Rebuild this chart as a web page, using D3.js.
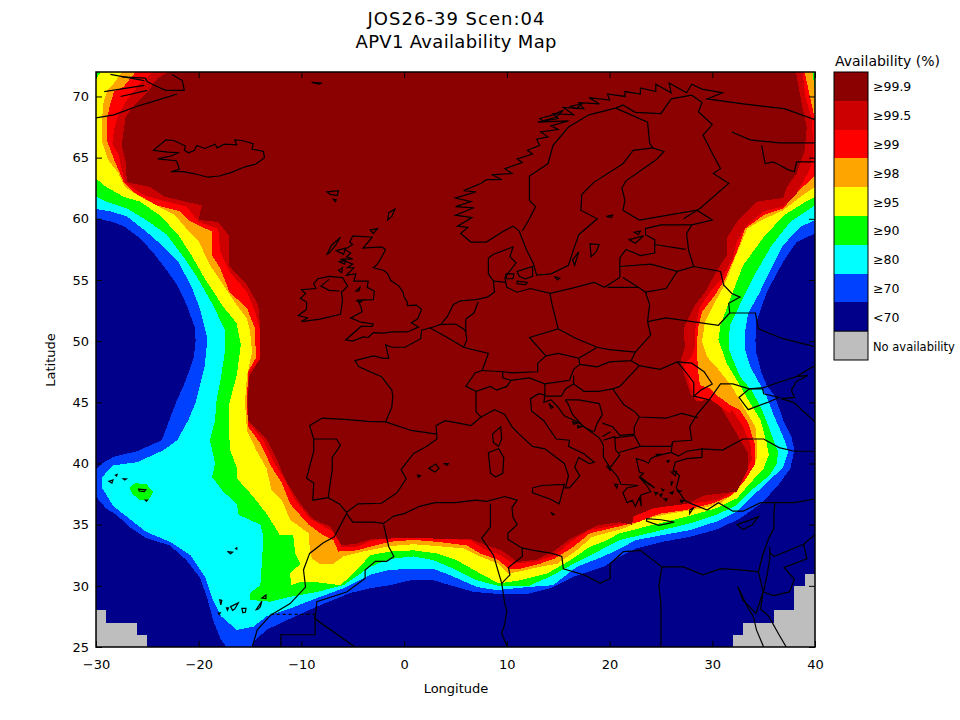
<!DOCTYPE html>
<html>
<head>
<meta charset="utf-8">
<script src="https://cdnjs.cloudflare.com/ajax/libs/d3/7.8.5/d3.min.js"></script>
<style>
  html, body { margin: 0; padding: 0; background: #fff; }
  text { font-family: "DejaVu Sans", sans-serif; fill: #000; }
</style>
</head>
<body>
<div id="chart"></div>
<script>
var lonTicks = [-30, -20, -10, 0, 10, 20, 30, 40];
var latTicks = [25, 30, 35, 40, 45, 50, 55, 60, 65, 70];
var legendLabels = ["≥99.9", "≥99.5", "≥99", "≥98", "≥95", "≥90", "≥80", "≥70", "<70", "No availability"];
var legendColors = ["#8b0000", "#cc0000", "#ff0000", "#ffa500", "#ffff00", "#00ff00", "#00ffff", "#0040ff", "#00008b", "#bebebe"];

// contour of each availability level, [lon, lat]
var level70 = [[-30,60],[-28.6,59.8],[-27.3,59.4],[-25.7,58.4],[-24.4,57.2],[-23.3,56],[-22.1,54.6],[-21.2,53],[-20.4,51.2],[-20.3,50],[-20.5,48.6],[-21.3,46.7],[-22.2,45],[-23.6,41.9],[-26,41],[-28.3,40.55],[-29.4,40],[-30,39.5],[-30,37.3],[-29,36.3],[-28,35.8],[-26.7,34.8],[-25.1,33.9],[-22.8,33.3],[-21.2,32.1],[-19.9,30.7],[-19.2,29.1],[-18.6,27.2],[-17.9,25.7],[-17.3,25],[-14.8,25],[-14.7,25.4],[-13.4,26.4],[-11.4,27.2],[-8.5,28.3],[-5.3,29.4],[-3.3,29.8],[-1.4,30.05],[0.6,30.45],[2.85,30.45],[4.5,30.05],[6.75,29.5],[9,29.35],[12,29.35],[14.2,29.8],[16.8,30.85],[19.4,31.55],[21,32.4],[22.6,33.05],[25.2,33.6],[27.8,34],[30.4,34.6],[32.7,35.5],[34.7,36.7],[36.3,38.1],[37.6,39.6],[38,41.1],[37.7,42.2],[36.9,43.55],[36.1,45.5],[35.3,46.4],[34.8,47.4],[34.3,49],[34.2,50],[34.3,51.6],[35.3,54],[36.9,56.5],[38.2,58.1],[40,58.8],[40,72],[-30,72]];
var level80 = [[-30,60.8],[-28.6,60.6],[-27,60.2],[-25.1,58.95],[-23.4,57.7],[-22,56.5],[-20.7,54.45],[-19.9,52.7],[-19.15,50.2],[-19.4,48.05],[-20.3,45],[-21,43.55],[-22.1,41.9],[-23.4,41.1],[-26,40.1],[-28.3,39.85],[-29.4,38.9],[-29.4,38],[-28.3,36.5],[-27,35.65],[-25.1,34.4],[-22.8,33.6],[-20.8,32.5],[-19.4,30.75],[-18.6,28.8],[-17.8,27.5],[-16.3,26.4],[-14.7,26.65],[-13.4,27.5],[-11.1,28.15],[-8.5,29],[-5.9,29.8],[-3.3,30.9],[-1.4,31.3],[0.9,31.4],[2.85,31.4],[4.8,30.75],[7.1,29.9],[9,29.65],[12,29.9],[14.5,30.05],[16.8,31.55],[19.4,32.4],[21,33.05],[22.6,33.75],[25.2,34.15],[27.8,34.55],[30.4,35.25],[32.4,36.05],[34,37.4],[35.6,38.65],[36.9,39.7],[37.4,41],[36.9,42.2],[36.1,43.7],[35.3,45.45],[34.5,46.7],[33.7,47.9],[33.2,49.3],[33.2,50.8],[33.5,52.3],[34.5,53.8],[35.6,55.7],[36.9,57.85],[38.6,59.35],[40,59.9],[40,72],[-30,72]];
var level90 = [[-30,61.8],[-29,61.4],[-27,60.85],[-25.1,59.9],[-23.1,58.7],[-21.5,56.9],[-20.2,55.3],[-18.6,52.95],[-17.4,50.8],[-17.4,49.4],[-17.8,47.2],[-18.3,45],[-18.4,43.55],[-18.9,41.9],[-18.4,40],[-18.7,38.9],[-17.6,37.7],[-16.3,36.7],[-16.1,35.8],[-14,35],[-13.7,34],[-13.9,31.3],[-14,30.05],[-15,29.4],[-15,28.85],[-13,28.7],[-11.1,29.1],[-8.5,29.5],[-5.9,30.05],[-3.3,31.55],[-1.4,32.2],[0.9,32.4],[2.85,32.1],[4.8,31.4],[7.1,30.45],[9.35,29.95],[12,29.95],[14.2,30.75],[16.5,31.8],[19.4,33.05],[21,33.75],[24.3,34.4],[27.8,35.1],[30.4,35.8],[32.4,36.6],[34,37.95],[35.6,39.05],[36.3,40],[36.4,41],[36,41.8],[35.5,43],[34.7,44.65],[33.8,46],[32.7,47.1],[31.9,48.7],[31.6,49.4],[31.7,51.3],[32.7,53],[34.2,55.55],[35.8,57.85],[37.6,59.75],[40,61.1],[40,72],[-30,72]];
var azoresPatch = [[-26.7,38],[-26.2,38.4],[-25.1,38.3],[-24.4,37.7],[-24.9,37],[-25.7,37],[-26.5,37.55]];
var level95 = [[-30,63.3],[-29,62.6],[-27.3,61.8],[-25.7,61.4],[-23.8,60.3],[-22,58.7],[-20.7,57],[-19.4,55.1],[-17.6,52.8],[-16.3,51.45],[-15.9,49.7],[-16.3,47.2],[-17,45],[-17.1,43.55],[-16.95,41.1],[-16.3,39.7],[-16.3,38.8],[-14.7,37.3],[-13.4,35.9],[-12.1,34.15],[-10.8,34.15],[-10.6,32.65],[-10.1,31.8],[-11.1,31],[-11,30.05],[-10.1,30.3],[-8.5,30.3],[-6.2,30.05],[-4.6,31.3],[-3.3,32.5],[-1.4,32.8],[0.9,32.9],[3.2,32.65],[5.1,32.1],[7.1,31.15],[9.2,30.2],[11.3,30.45],[13.9,31],[16.2,32.1],[18.1,33.2],[19.4,33.6],[21,34.3],[24.3,35],[27.5,35.65],[30.4,36.35],[32.4,37.15],[33.8,38.5],[35,39.6],[35.5,40.7],[35.3,41.65],[34.7,43.55],[33.5,45.2],[32.4,46.8],[31.4,48.2],[30.6,50.1],[30.8,51.3],[31.9,53.8],[33,56.2],[35,58.5],[37,60.3],[38.9,61.3],[40,61.8],[40,70.5],[39.75,72],[-29.55,72],[-30,71.4]];
var level98 = [[-27.45,72],[-28.25,71.1],[-28.9,70.5],[-29.3,69.4],[-29.4,68.1],[-29.4,66.3],[-28.8,64.8],[-27.8,63.7],[-27.2,62.6],[-25.7,61.8],[-23.9,61],[-22.3,60.3],[-21.2,59.2],[-20,58.15],[-18.9,56.2],[-17.6,54.6],[-16.3,52.95],[-15.3,51.85],[-15,50.8],[-14.8,49.1],[-15.3,47.2],[-15.5,45],[-15.3,42.7],[-14.4,41.1],[-13.4,39.6],[-12.9,37.8],[-11.9,37],[-11.1,35.4],[-9.3,34.3],[-9.2,33.2],[-9,32.25],[-8.2,31.8],[-6.9,31.8],[-5.9,32.4],[-4,32.8],[-1.4,33.25],[0.9,33.4],[3.2,33.25],[5.8,33.05],[7.4,32.4],[9.2,31.8],[10.15,31],[11.1,31.15],[13.2,31.55],[14.9,31.8],[16.8,32.9],[18.3,34],[21.4,34.7],[23.6,35.5],[25.9,35.9],[29.1,36.35],[30.8,36.75],[32.4,37.7],[33.5,39.05],[34.3,40.3],[34.4,41.35],[34.2,43],[33.2,44.4],[31.9,46.3],[30.4,47.9],[29.5,48.7],[29,50],[29.3,51.6],[30.1,52.95],[31.2,54.6],[32.2,56.8],[33.4,59.2],[34.8,59.9],[36.9,60.7],[38.6,61.8],[40,62.6],[40,70.5],[39.75,72]];
var level99 = [[-26.15,72],[-27.3,70.8],[-28.25,70.4],[-28.6,69.4],[-28.9,68.35],[-28.9,66.3],[-28.15,64.65],[-27.3,63],[-26.2,62.1],[-24.1,61.1],[-21.8,60.6],[-20.85,59.8],[-18.7,58.95],[-18.7,57],[-17.9,55.95],[-17,54],[-15.3,52.7],[-14.5,51],[-14.45,48.6],[-15.2,47.5],[-15.3,45],[-15.2,43],[-14,41.65],[-12.9,39.7],[-11.9,38.4],[-11.1,36.7],[-9.3,35],[-7.9,34.15],[-6.9,33.75],[-6.4,32.8],[-4.6,32.9],[-3.3,33.2],[-1.4,33.6],[0.9,33.75],[3.2,33.6],[6.1,33.3],[7.4,32.65],[9.2,32.1],[10.15,31.4],[11.3,31.4],[13.2,31.8],[14.7,32.25],[16.5,33.2],[18.1,34.3],[21.4,34.95],[22.9,35.25],[24.9,35.9],[27.5,36.2],[30.1,36.75],[31.9,37.4],[33.2,38.65],[34.2,40],[34.2,41.4],[33.5,43.3],[32.7,44.35],[31.7,44.8],[30.4,45.6],[29.8,46.15],[28.8,46.4],[28.6,47.65],[28.5,49.55],[28.6,51],[29,52.4],[30.2,53.7],[31.2,55],[32.4,57.3],[33.2,59.2],[35,60.3],[36.9,60.85],[38.2,62.1],[39.2,62.9],[40,63.5],[40,68.1],[39.5,70],[39,72]];
var level995 = [[-24.5,72],[-26,70.8],[-27,69.7],[-27.9,68.35],[-28.25,67.25],[-28.4,66.15],[-27.8,65.2],[-27.2,63],[-25.4,61.95],[-23.8,61.55],[-21.2,61],[-20,59.75],[-18.1,59.2],[-17.9,57.3],[-17,55.7],[-15.3,54],[-14.5,52.4],[-14,50.8],[-14,48.6],[-15.1,47.4],[-15.3,45],[-15.1,43.3],[-13.7,41.9],[-12.6,40],[-11.6,38.65],[-10.6,37],[-9.2,35.5],[-7.2,34.55],[-6.2,33.75],[-6.1,33.2],[-4.6,33.2],[-3.3,33.65],[-1.4,33.95],[0.9,33.95],[3.2,33.85],[6.4,33.75],[7.7,33.05],[9.35,32.5],[10.6,31.8],[12.9,32],[14.7,32.5],[16.2,33.6],[18,34.55],[21.4,35.1],[22.3,35.65],[24,36.35],[25.2,36.5],[28.2,36.75],[30.4,37],[32.1,37.7],[33,38.9],[33.85,40.3],[33.7,41.65],[32.9,43.15],[31.9,44.4],[31.7,44.1],[30.4,44.9],[29.5,44.8],[28.5,45.3],[28,46],[27.2,48],[28,48.7],[28.3,49.55],[28.3,50.8],[28.75,52.7],[29.8,54.05],[30.9,55.1],[32,56.8],[32.4,58.15],[33.4,59.5],[35,60.6],[36.9,61],[38.2,62],[38.55,62.6],[39.5,64],[39.85,65.35],[39.7,68.1],[39.05,70],[38.8,72]];
var level999 = [[-22.9,72],[-24,71.5],[-24.85,70.5],[-26.1,69.45],[-27.1,68.35],[-27.3,67.25],[-27.5,66],[-27.1,64.65],[-27,63],[-24.75,62.6],[-23.3,61.8],[-19.7,61.1],[-20,59.9],[-18.1,59.75],[-17.1,58.65],[-17.1,56.2],[-15.3,54.6],[-14.2,52.95],[-14,51],[-14,48.6],[-15.1,47.1],[-15.2,45],[-15.2,43.55],[-13.4,42],[-12.4,40.3],[-11.4,38.4],[-10.1,36.7],[-8.8,35.4],[-7.2,34.85],[-6.1,33.3],[-4.6,33.45],[-3.3,33.8],[-1.7,33.85],[0.9,33.95],[3.2,33.85],[6.4,33.85],[8,33.3],[9.5,32.9],[10.15,32.5],[11,31.95],[12.9,32.15],[14.5,32.8],[16.2,33.85],[17.5,34.4],[18.8,34.95],[21,35.2],[22.2,35],[22.3,35.65],[24.3,36.35],[27.5,36.7],[29.3,37.4],[32.4,37.7],[33.5,39.6],[33.5,40.8],[32.2,42.7],[30.8,44.65],[29.8,45.25],[28.5,45.05],[27.85,45.75],[27,47.9],[26.9,48.3],[27.35,49.55],[27.2,50.9],[27.35,51.3],[28.3,52.95],[29.3,54],[30.4,55.7],[31.4,57],[31.4,58.4],[32.4,59.75],[34.3,61.4],[36.9,61.7],[37.25,62.6],[38.2,63.7],[39,65.6],[39.2,67.5],[38.7,69.4],[38.15,72]];
var noDataWest = [[-30,25],[-30,28],[-29,28],[-29,27],[-26,27],[-26,26],[-25,26],[-25,25]];
var noDataEast = [[32,25],[32,26],[33,26],[33,27],[36,27],[36,28],[38,28],[38,30],[39,30],[39,31],[40,31],[40,25]];

// coastlines and borders, [lon, lat]
var iceland = [[-22.7,63.85],[-21.5,63.85],[-20.5,63.7],[-19.1,63.4],[-18,63.5],[-16.8,63.8],[-15.5,64.25],[-14.5,64.45],[-13.6,65],[-13.7,65.5],[-14.8,65.7],[-14.7,66.15],[-15.8,66.4],[-16.5,66.45],[-16.3,66.05],[-17.5,66.1],[-18.2,65.8],[-18.4,66.1],[-19.4,65.75],[-20.2,66],[-20.4,65.6],[-21,65.4],[-21.4,65.6],[-21.3,65.95],[-22.4,66.4],[-23.2,66.45],[-24.4,65.6],[-23,65.45],[-22,65.4],[-22.6,65.15],[-24,64.9],[-22.2,64.75],[-22,64.4],[-21.9,64.05],[-22.7,63.85]];
var greenland = [[[-30,68.25],[-28.25,68.5],[-26,69.2],[-24,69.7],[-22.1,70.2]],[[-25,71.2],[-24,70.8],[-23.2,70.5],[-21.4,70.5],[-21.6,71.3],[-22.6,71.8]],[[-29.2,70.4],[-25.3,70.9]],[[-27.6,70],[-25,70.5]],[[-28.6,71.8],[-25.3,71.3]],[[-27.5,71.6],[-25.2,71.5],[-25,71.2]]];
var britain = [[-5.7,50.1],[-5,50],[-4,50.35],[-3.5,50.3],[-3,50.7],[-2,50.65],[-1.2,50.75],[0.3,50.75],[1.4,51.15],[0.7,51.5],[1.3,51.8],[1.7,52.6],[1.2,52.95],[0.3,52.9],[0.3,53.2],[0,53.6],[-0.1,54],[-0.5,54.5],[-1.3,54.95],[-1.6,55.5],[-2,55.8],[-3,56],[-2.6,56.3],[-2.1,57],[-1.8,57.5],[-2.2,57.7],[-4,57.6],[-3.1,58.5],[-5,58.6],[-5.3,58.1],[-5,57.9],[-5.8,57.5],[-5.2,57.2],[-5.6,56.9],[-5,56.7],[-6.2,56.7],[-5,56.3],[-5.5,56],[-4.9,56],[-5.6,55.4],[-4.7,55.5],[-4.9,54.9],[-3.5,54.9],[-3.6,54.4],[-2.9,54.1],[-3,53.4],[-4.5,53.35],[-4.2,52.8],[-4.1,52.4],[-5.2,51.9],[-4.2,51.55],[-3,51.4],[-3.1,51.2],[-4.2,51.2],[-5.7,50.1]];
var ireland = [[-6,53.3],[-6.2,52.2],[-8.2,51.8],[-10,51.6],[-9.4,51.9],[-10.3,52.1],[-9.5,52.6],[-9.5,53.2],[-10.1,53.5],[-9.6,53.9],[-10,54.2],[-8.6,54.3],[-8.8,54.7],[-8.4,55.1],[-7.3,55.3],[-6,55.2],[-5.5,54.5],[-6.1,54],[-6,53.3]];
var ulster = [[-7.3,55.05],[-8.1,54.5],[-7.3,54.15],[-6.3,54.1]];
var mainland = [[-8.8,42],[-8.8,41],[-9.5,38.8],[-8.8,38.4],[-8.9,37],[-7.4,37.2],[-6.3,36.7],[-5.6,36],[-4.5,36.7],[-2.2,36.75],[-0.7,37.6],[0.2,38.75],[-0.3,39.5],[0.9,40.8],[2.2,41.4],[3.2,42],[3.1,43.1],[4,43.5],[5.3,43.3],[6.5,43.1],[7.5,43.8],[8.8,44.4],[9.8,44],[10.5,43],[11.2,42.4],[12.5,41.4],[13.7,41.2],[14.5,40.7],[15.6,40],[16,39],[15.7,38],[16.1,38],[16.6,38.5],[17.1,39],[16.6,39.7],[17,40.5],[18,40],[18.5,40.1],[17.5,40.8],[16,41.4],[16.1,41.9],[14.8,42],[13.6,43.5],[12.4,44.3],[12.3,45.3],[13.1,45.7],[13.7,45.6],[13.6,45],[14.3,45.2],[14.9,44.7],[15.6,43.9],[16.9,43.4],[18,42.7],[19,42.1],[19.4,41.5],[19.4,40.5],[20.1,39.6],[20.8,38.9],[21.1,38.3],[22.8,38.2],[21.7,38],[21.3,37.6],[21.7,36.8],[22.2,37],[22.5,36.5],[22.9,37.2],[23.1,36.5],[23,37.4],[24,37.7],[23.7,38.1],[22.9,38.9],[23.3,39.2],[22.9,39.3],[22.6,40.4],[23.4,40.2],[23.8,40],[24,40.4],[24.5,40.6],[26,40.9],[26.7,40.6],[27.5,41],[29,41.2],[31,41.1],[33,42],[35,42],[36.5,41.3],[38,41],[40,41]];
var atlanticCoast = [[-8,43.7],[-9.2,43.1],[-8.8,42]];
var northCoast = [[-8,43.7],[-5.8,43.6],[-3.5,43.45],[-1.8,43.4],[-1.2,44.6],[-1.1,45.5],[-1.2,46],[-2.2,47.1],[-4.4,47.9],[-4.8,48.4],[-3,48.8],[-2,48.6],[-1.5,48.6],[-1.8,49.7],[-1.2,49.5],[0.1,49.5],[1.6,50.2],[1.7,50.9],[3,51.2],[3.6,51.4],[4.2,52],[4.8,53],[5.5,53.3],[7,53.4],[8.1,53.6],[8.8,54],[8.7,54.9],[8.2,55.5],[8.2,56.8],[8.7,57.1],[10.6,57.7],[10.3,56.9],[10.9,56.4],[9.8,55.2],[10,54.4],[11,54],[12.3,54.3],[14.2,53.9],[16.2,54.3],[18.5,54.8],[19.5,54.4],[21,55.2],[21,56.8],[21.6,57.5],[23,57],[24.4,57.2],[24.4,58.3],[23.5,58.7],[23.5,59.2],[25,59.5],[28,59.5],[30,59.9],[28.5,60.7],[25,60.2],[22.9,59.9],[21.3,60.7],[21.5,61.5],[21.2,62.5],[21.6,63.1],[24.5,64.8],[25.3,65.5],[24.2,65.8],[22.3,65.6],[21.3,64.5],[18.5,63],[17.3,62],[17.2,60.7],[18.8,60],[17,58.7],[16.5,57.5],[16,56.2],[14.3,55.5],[12.9,55.4],[12.6,56.3],[11.9,57.5],[11.2,59],[10.6,59.4],[9.5,58.9],[8,58.1],[6.5,58.1],[5.5,58.8],[6.2,59.3],[5.2,59.4],[6.6,60.1],[5,60.3],[6.8,60.9],[5,61],[6.5,61.4],[5,61.7],[7,62.2],[5.8,62.3],[7.5,62.9],[8,63.2],[9.5,63.2],[8.6,63.6],[10.5,63.7],[9.8,64.1],[11.5,64.6],[11,64.9],[12.5,65.3],[12,65.6],[13.2,66],[12.9,66.5],[14,66.7],[13.3,67.1],[15,67.3],[14.3,67.6],[16,68],[13,67.9],[15,68.2],[14.5,68.6],[16.5,68.5],[15.5,69.1],[17.5,69],[17,69.5],[19,69.4],[18,69.9],[20,69.7],[19.8,70.2],[21.5,70],[21.5,70.4],[23,70.2],[23,70.7],[24.5,70.4],[24.5,71],[26,70.3],[25.8,71.1],[27.5,70.3],[28,71],[29,70.6],[31,70.3],[29.5,69.8],[33,69.4],[37,69],[40,68.1]];
var whiteSea = [[31.9,67.1],[33.7,66.45],[36.6,66.2],[40,66.2]];
var whiteSeaSouth = [[40,64.65],[38.2,64.65],[38,63.85],[37.4,64],[36.3,64.5],[35.9,64.65],[35.15,64.5],[34.8,66]];
var africa = [[-14.8,25],[-14.3,26.4],[-13,27.6],[-11.1,28.55],[-9.6,29.9],[-9.8,31.3],[-9.2,32.65],[-7.9,33.5],[-6.8,34],[-5.6,35.9],[-5,35.2],[-3,35.2],[-2,35.1],[-1,35.7],[0,35.9],[1.5,36.5],[3,36.8],[5,36.8],[7,37],[8,36.9],[9.8,37.3],[11,37],[10.5,36.4],[10.6,35.6],[11,35],[10.1,34.3],[10.1,33.8],[11.45,33.1],[12.9,32.85],[14.4,32.65],[15.35,32.4],[15.5,31.4],[17.5,30.9],[19.1,30.2],[20.05,30.6],[20.05,31.8],[21.35,32.8],[22.65,32.85],[23,32.9],[25.1,31.55],[27.2,31.55],[29.1,30.9],[30.8,31.4],[32.7,31.3],[34.5,31.15],[34.9,32.5],[35.5,33.9],[36,34.7],[36,35.9],[36.1,36.8],[34.7,36.8],[33,36.1],[32,36.1],[30.6,36.8],[29.5,36.2],[28,36.7],[27.3,37],[26.5,38],[26.8,39],[26.2,39.5],[26.4,40.1],[27.5,40.4],[29,40.5],[29,41.2]];
var blackSeaWest = [[28,41.9],[27.8,43],[28.5,44],[29.7,45.2],[30.8,46.5],[32,46.5],[33.6,46.1],[35,46.2],[36.7,46.7],[38.2,47.1],[39.3,47.2],[38.2,46.7],[37.7,46],[38,45.4],[36.7,45.3],[37.9,45],[40,43.4]];
var crimea = [[33.6,46.1],[32.6,45.4],[33.5,44.4],[35.4,45],[36.5,45.4],[35,45.7],[34.9,46.1]];
var redSea = [[[32.5,29.9],[33.5,28.15],[34,27.5],[34.3,26.4],[35,25]],[[32.5,29.9],[33,28.8],[34.25,27.75],[34.95,29.5],[34.7,28.1],[35.5,27.5],[36.5,26],[37.2,25]]];
var borders = [
  [[-1.8,43.4],[0.7,42.7],[3.2,42.4]],
  [[-8.8,42],[-6.6,42],[-6.2,41.5],[-7,40.5],[-7,39.5],[-7.4,37.2]],
  [[2.5,51.1],[4.2,50.3],[5.8,49.5],[8.2,49],[7.6,47.6],[6.9,47.4],[6,46.3],[7,45.9],[7,44.2],[7.5,43.8]],
  [[3.4,51.35],[5,51.4],[5.8,51],[6,50.75],[6.1,50.1],[5.8,49.5]],
  [[7.2,53.2],[6.8,52.3],[6,51.8],[6,50.75]],
  [[7.6,47.6],[9.6,47.5],[9.6,47],[10.4,46.8],[10,46.3],[9,46],[8.4,46.3],[7,45.9]],
  [[8.7,54.9],[9.9,54.8]],
  [[14.2,53.9],[14.4,53],[14.7,52],[15,51],[12.2,50.3],[13.8,48.8],[13,48.2],[13,47.5],[10.5,47.4],[9.6,47.5]],
  [[10.4,46.8],[12.2,47],[13.7,46.5],[13.7,45.6]],
  [[13.7,46.5],[16.1,46.8],[16.5,47.7],[17.1,48.1]],
  [[13.8,48.8],[15,49],[17,48.6],[17.1,48.1],[18.8,47.9],[20,48.3],[22.1,48.4],[22.5,49.1]],
  [[15,51],[16.8,50.2],[18.8,49.5],[20,49.3],[22.5,49.1],[24,50.5],[23.7,51.6],[23.9,53],[23.5,54],[22.8,54.4],[19.8,54.4]],
  [[17,48.6],[18.8,49.5]],
  [[22.8,54.4],[21.3,55.2]],
  [[21,56.1],[24,56.3],[26.6,55.7],[25.5,54.3],[23.5,54]],
  [[26.6,55.7],[28.2,56.1],[27.7,57.4],[27.5,58.8],[28,59.5]],
  [[24.4,57.9],[27.4,57.5]],
  [[28.2,56.1],[30.8,55.7],[31.1,54.6],[31.9,53.9],[32.7,53.6],[31.6,53.1],[31.7,52.3],[30.6,51.3],[25.5,51.9],[23.7,51.6]],
  [[31.7,52.3],[34.2,52.3],[34.5,51],[36.9,50.2],[40,49.55]],
  [[40,48],[38.2,47.1]],
  [[22.1,48.4],[22.9,48],[24.9,47.7],[26.6,48.3],[28,48.2],[29.2,47.5],[30,46.5],[28.9,46],[28.2,45.5],[28.2,46.6],[27.3,47.6],[26.6,48.3]],
  [[22.9,48],[21,46.3],[20.3,46.1],[21.4,44.8],[22.5,44.2],[22.9,43.8],[25.5,43.7],[27,44.1],[28.6,43.75]],
  [[28.2,45.5],[29.7,45.2]],
  [[16.5,47.2],[16.5,46.5],[17.5,45.9],[18.9,45.9],[20.3,46.1]],
  [[13.6,45.5],[15.3,45.5],[15.7,46.1],[16.5,46.5]],
  [[15.7,45.2],[16,44.8],[16.4,44],[17.5,43],[18.4,42.6]],
  [[15.7,45.2],[17,45.2],[19,44.9],[19.3,44],[18.8,43.3],[18.5,42.6]],
  [[19.3,43.3],[20.3,43],[21,42.3],[22.4,42.4],[22.4,43],[22.9,43.8]],
  [[19.3,42.2],[20.1,42.6]],
  [[19.4,41.9],[20.5,42.2],[20.6,41.1],[21,40.7],[20.1,39.7]],
  [[20.5,42.1],[22.4,42.3],[23,41.4],[20.9,40.9]],
  [[23,41.4],[26,41.4],[26.2,41.8],[28,41.9]],
  [[26.1,41.7],[26,40.9]],
  [[20.6,69.05],[21.3,69.3],[22.5,68.7],[25,68.6],[26,69.8],[28,70.1],[29,69.5],[28.65,68.75],[30,67.7],[29.1,66.85],[30.1,65.2],[30.8,64.1],[30.1,63.7],[31.6,62.9],[28.8,60.85],[27.2,60]],
  [[20.6,69.05],[18,68.5],[16,67.5],[14.5,66],[14,64.5],[12.2,63.5],[12.2,61.5],[12.8,61],[12.2,60],[11.5,59]],
  [[20.6,69.05],[23.7,67.9],[23.9,66.2],[24.2,65.8]],
  [[-2,35],[-1.5,33.2],[-1,32.4],[-1.7,32],[-2.8,32],[-3.8,31.3],[-3.8,30.6],[-5.6,29.5],[-8.5,28.7],[-8.67,27.3],[-4.8,25]],
  [[-8.67,27.7],[-8.67,26],[-12,26],[-12,25]],
  [[8.4,36.7],[8.4,34.8],[7.55,33.9],[8.7,32.5],[9.5,30.2],[9.8,28.5],[10,28],[9.8,26.9],[9.5,26.1],[10.05,25]],
  [[11.5,33.1],[11.5,32.4],[10.15,31.5],[10.3,30.9],[9.5,30.2]],
  [[25.1,31.55],[24.8,30],[25,28.5],[25,25]],
  [[34.5,31.15],[34.95,29.5]],
  [[36,32.4],[38.9,33.4],[40,34.2]],
  [[38.9,33.4],[39.2,32.2],[37,31.5],[38,30.5],[37.5,29.5],[36,29.2],[34.95,29.5]],
  [[35.6,33.2],[35.6,32.2],[35.4,31.2],[35,29.5]],
  [[36,32.4],[35.6,32.7]],
  [[36.1,36.8],[38,36.8],[40,37.1]]
];
var westernSaharaDash = [[-13,27.67],[-8.67,27.67]];
var islands = [
  [[-9,71.15],[-8,71.1],[-8.3,71],[-9,71.15]],
  [[-7.5,62.2],[-6.4,62.3],[-6.5,61.9],[-7.2,62]],
  [[-6.9,61.6],[-6.7,61.4],[-6.6,61.55]],
  [[-1.6,59.9],[-1.2,60.2],[-0.9,60.8],[-1.5,60.5]],
  [[-3.3,59.1],[-2.6,59.2],[-3,58.8]],
  [[-7.5,57.1],[-7.1,57.8],[-6.2,58.5],[-6.7,57.8],[-7.3,57.2]],
  [[-6.6,57.4],[-5.7,57.6],[-5.9,57.1]],
  [[-6.3,56.5],[-5.7,56.6],[-5.8,56.3]],
  [[-6.4,55.8],[-6,56],[-6.1,55.6]],
  [[-4.7,54.1],[-4.3,54.4],[-4.4,54.1]],
  [[-4.6,53.3],[-4.1,53.3],[-4.3,53.15]],
  [[1.3,39.05],[1.6,39],[1.4,38.85]],
  [[2.4,39.6],[3.1,39.95],[3.4,39.6],[3,39.3]],
  [[3.85,40],[4.3,40],[4.2,39.85]],
  [[8.6,42.4],[9.4,43],[9.5,42],[9.2,41.4],[8.7,41.7]],
  [[8.2,40.9],[9.2,41.2],[9.7,40.5],[9.6,39.2],[8.9,38.9],[8.4,39.2]],
  [[12.5,38],[13.4,38.2],[15.6,38.3],[15.1,36.7],[14.2,37.1],[12.5,37.6]],
  [[14.3,36],[14.6,35.85],[14.5,35.8]],
  [[23.6,35.5],[25,35.4],[26.3,35.2],[24.8,34.95],[23.6,35.3]],
  [[27.8,36.2],[28.2,36.4],[27.8,35.9]],
  [[32.4,35],[33.6,35.35],[34.5,35.65],[33.9,35],[33,34.6]],
  [[23,38.9],[24.4,38],[24,38.2],[23.3,38.6]],
  [[19.7,39.8],[20,39.7],[20.1,39.4]],
  [[20.5,38.3],[20.8,38.3],[20.7,38]],
  [[26,39.3],[26.5,39.35],[26.4,39]],
  [[26,38.5],[26.15,38.5],[26,38.2]],
  [[26.6,37.8],[26.95,37.75],[26.7,37.65]],
  [[25.3,37.1],[25.6,37.1],[25.5,36.95]],
  [[25.1,37.9],[25.3,37.85],[25.2,37.75]],
  [[24.9,40.75],[24.65,40.6],[24.55,40.75]],
  [[25.85,40.25],[25.65,40.1],[25.6,40.2]],
  [[24.4,37.65],[24.7,37.6],[24.5,37.45]],
  [[24.9,37.45],[25.1,37.5],[25,37.3]],
  [[25.9,37.6],[26.2,37.7],[26.1,37.5]],
  [[26.9,37],[27.2,36.95],[27,36.8]],
  [[14.1,44.9],[14.5,44.6],[14.3,44.5]],
  [[16.4,43.4],[16.9,43.3],[16.5,43.2]],
  [[16.9,43.1],[17.3,43],[16.9,42.9]],
  [[13.2,68.2],[14.5,68.5],[15.5,68.9],[14.8,68.3],[13.5,68]],
  [[16.2,69.2],[17.3,69.4],[16.8,69]],
  [[18.1,57.95],[19,57.9],[18.7,57.3],[18.2,56.9]],
  [[16.4,56.65],[17,57.3],[16.6,56.2]],
  [[14.7,55.25],[15.15,55.15],[14.9,55]],
  [[21.9,58.3],[23.3,58.6],[22.5,58]],
  [[22.4,58.9],[23,59],[22.8,58.7]],
  [[19.7,60.2],[20.3,60.3],[20.2,60.1]],
  [[9.9,55.5],[10.7,55.5],[10.6,55.1],[10,55.1]],
  [[11,55.7],[12.5,56.1],[12.5,55.3],[11.8,55.1],[11.2,55.3]],
  [[11,54.9],[12,54.8],[11.8,54.6],[11,54.7]],
  [[-28.75,38.55],[-28.35,38.65],[-28.45,38.4]],
  [[-27.35,38.75],[-27.05,38.75],[-27.2,38.65]],
  [[-28.1,39.05],[-27.95,39.1],[-28,38.98]],
  [[-25.85,37.9],[-25.15,37.85],[-25.3,37.7],[-25.8,37.75]],
  [[-25.2,37],[-25,37],[-25.1,36.92]],
  [[-17.2,32.8],[-16.7,32.75],[-16.9,32.62]],
  [[-16.4,33.05],[-16.3,33.1],[-16.3,33]],
  [[-17.95,28.85],[-17.75,28.8],[-17.85,28.45]],
  [[-17.3,28.2],[-17.1,28.2],[-17.2,28]],
  [[-16.9,28.3],[-16.15,28.6],[-16.5,28.1],[-16.7,28]],
  [[-15.8,28.15],[-15.4,28.15],[-15.45,27.85],[-15.7,27.8]],
  [[-14.4,28.05],[-13.85,28.75],[-14,28.3],[-14.2,28.1]],
  [[-13.85,29],[-13.45,29.25],[-13.45,28.95]],
  [[-18.1,27.78],[-17.9,27.8],[-18,27.65]]
];

var margin = { top: 72, left: 96 };
var innerW = 719, innerH = 575;

var x = d3.scaleLinear().domain([-30, 40]).range([0, innerW]);
var y = d3.scaleLinear().domain([25, 72]).range([innerH, 0]);
var outline = d3.line().x(function (d) { return x(d[0]); }).y(function (d) { return y(d[1]); });

var svg = d3.select("#chart").append("svg").attr("width", 960).attr("height", 720);
svg.append("defs").append("clipPath").attr("id", "plot-clip")
  .append("rect").attr("width", innerW).attr("height", innerH);

var plot = svg.append("g").attr("transform", "translate(" + margin.left + "," + margin.top + ")");
var map = plot.append("g").attr("clip-path", "url(#plot-clip)");

map.append("rect").attr("width", innerW).attr("height", innerH).attr("fill", legendColors[8]);

[level70, level80, level90, level95, level98, level99, level995, level999].forEach(function (band, i) {
  map.append("path").attr("d", outline(band) + "Z")
    .attr("fill", legendColors[7 - i]).attr("shape-rendering", "crispEdges");
});
map.append("path").attr("d", outline(azoresPatch) + "Z").attr("fill", legendColors[5]).attr("shape-rendering", "crispEdges");
[noDataWest, noDataEast].forEach(function (cells) {
  map.append("path").attr("d", outline(cells) + "Z").attr("fill", legendColors[9]).attr("shape-rendering", "crispEdges");
});

var openLines = [whiteSea, whiteSeaSouth, mainland, atlanticCoast, northCoast, africa, blackSeaWest, ulster].concat(greenland, redSea, borders);
var closedLines = [iceland, britain, ireland, crimea].concat(islands);

map.selectAll("path.line").data(openLines).enter().append("path").attr("class", "line")
  .attr("d", function (d) { return outline(d); }).attr("fill", "none").attr("stroke", "#000").attr("stroke-width", 1.2);
map.selectAll("path.island").data(closedLines).enter().append("path").attr("class", "island")
  .attr("d", function (d) { return outline(d) + "Z"; })
  .attr("fill", "none").attr("stroke", "#000").attr("stroke-width", 1.2);
map.append("path").attr("d", outline(westernSaharaDash)).attr("fill", "none")
  .attr("stroke", "#000").attr("stroke-width", 1.2).attr("stroke-dasharray", "3,3");

// frame and ticks
plot.append("rect").attr("width", innerW).attr("height", innerH)
  .attr("fill", "none").attr("stroke", "#000").attr("stroke-width", 1.5);

function styleAxis(g) {
  g.select(".domain").remove();
  g.selectAll("line").attr("stroke", "#000");
  g.selectAll("text").attr("font-size", 13).attr("font-family", "DejaVu Sans");
}
plot.append("g").attr("transform", "translate(0," + innerH + ")")
  .call(d3.axisBottom(x).tickValues(lonTicks).tickSize(-6).tickPadding(13).tickFormat(d3.format("d"))).call(styleAxis);
plot.append("g")
  .call(d3.axisTop(x).tickValues(lonTicks).tickSize(-6).tickFormat("")).call(styleAxis);
plot.append("g")
  .call(d3.axisLeft(y).tickValues(latTicks).tickSize(-6).tickPadding(7).tickFormat(d3.format("d"))).call(styleAxis);
plot.append("g").attr("transform", "translate(" + innerW + ",0)")
  .call(d3.axisRight(y).tickValues(latTicks).tickSize(-6).tickFormat("")).call(styleAxis);

// titles
svg.append("text").attr("x", 456).attr("y", 25).attr("text-anchor", "middle").attr("font-size", 18)
  .attr("textLength", 177).text("JOS26-39 Scen:04");
svg.append("text").attr("x", 456).attr("y", 48).attr("text-anchor", "middle").attr("font-size", 18)
  .attr("textLength", 201).text("APV1 Availability Map");
svg.append("text").attr("x", 456).attr("y", 693).attr("text-anchor", "middle").attr("font-size", 13).text("Longitude");
svg.append("text").attr("transform", "translate(55,360) rotate(-90)").attr("text-anchor", "middle").attr("font-size", 13).text("Latitude");

// legend
var legendScale = d3.scaleBand().domain(legendLabels).range([72, 360]);
var legend = svg.append("g");
legend.append("text").attr("x", 835).attr("y", 66).attr("font-size", 14).text("Availability (%)");
var rows = legend.selectAll("g.row").data(legendLabels).enter().append("g").attr("class", "row");
rows.append("rect").attr("x", 834).attr("y", function (d) { return legendScale(d); })
  .attr("width", 34).attr("height", legendScale.bandwidth())
  .attr("fill", function (d, i) { return legendColors[i]; }).attr("shape-rendering", "crispEdges");
rows.append("text").attr("x", 873).attr("y", function (d) { return legendScale(d) + legendScale.bandwidth() / 2 + 5; })
  .attr("font-size", function (d, i) { return i === 9 ? 11.5 : 12.5; }).text(function (d) { return d; });
legend.append("rect").attr("x", 834).attr("y", 72).attr("width", 34).attr("height", 288)
  .attr("fill", "none").attr("stroke", "#000").attr("stroke-width", 1);
legend.append("line").attr("x1", 834).attr("x2", 868).attr("y1", legendScale("No availability")).attr("y2", legendScale("No availability")).attr("stroke", "#000");
</script>
</body>
</html>
